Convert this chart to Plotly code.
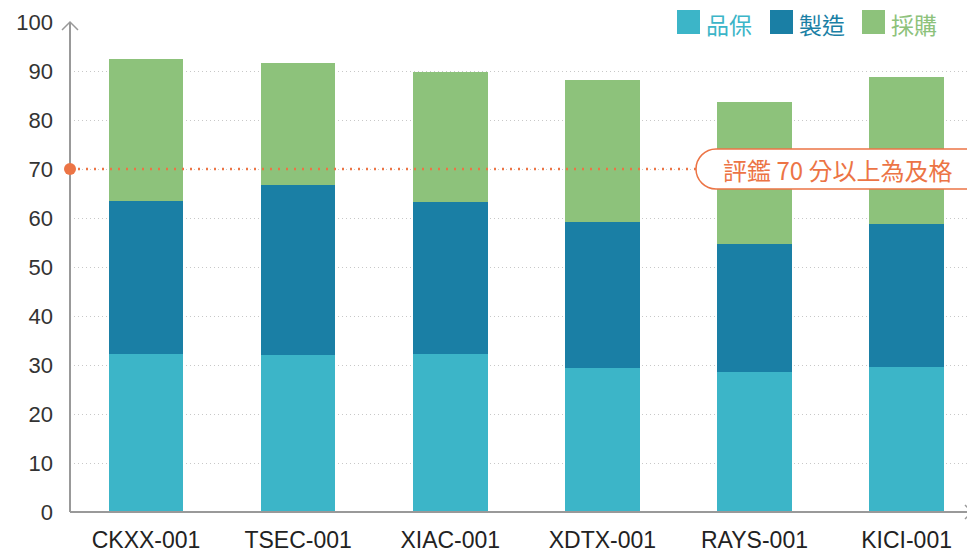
import plotly.graph_objects as go

categories = ["CKXX-001", "TSEC-001", "XIAC-001", "XDTX-001", "RAYS-001", "KICI-001"]
qa = [32.2, 32.0, 32.2, 29.4, 28.6, 29.6]          # 品保
mfg = [31.3, 34.7, 31.1, 29.8, 26.1, 29.2]         # 製造
purchase = [28.9, 24.9, 26.5, 29.0, 29.0, 30.0]    # 採購
series_names = ["品保", "製造", "採購"]
colors = ["#3cb5c8", "#1a7fa5", "#8dc27b"]
y_ticks = [0, 10, 20, 30, 40, 50, 60, 70, 80, 90, 100]
threshold = 70
threshold_label = "評鑑 70 分以上為及格"

ORANGE = "#ec7445"
AXIS = "#999999"
FONT = "Liberation Sans, Arial, Noto Sans CJK TC, sans-serif"
CJK = "Noto Sans CJK TC, sans-serif"

fig = go.Figure()
for name, vals, col in zip(series_names, [qa, mfg, purchase], colors):
    fig.add_trace(go.Bar(x=categories, y=vals, name=name, marker=dict(color=col, line=dict(width=0)),
                         width=0.49, showlegend=False))

# page body has an 8px margin; figure coords = screen coords - 8
OFF = 8
W, H = 975, 555
L, T = 70 - OFF, 22 - OFF
B = H - (512 - OFF)
R = W - (972 - OFF)
pw = W - L - R
ph = H - T - B

def px2paper_x(px):
    return (px - OFF - L) / pw

def px2paper_y(py):
    return (H - B - (py - OFF)) / ph

shapes = []
# axes lines
shapes.append(dict(type="line", xref="paper", yref="paper", x0=0, x1=1, y0=0, y1=0,
                   line=dict(color=AXIS, width=2), layer="above"))
shapes.append(dict(type="line", xref="paper", yref="paper", x0=0, x1=0, y0=0, y1=1,
                   line=dict(color=AXIS, width=2), layer="above"))
# arrow chevrons
shapes.append(dict(type="path", xref="paper", yref="paper", xsizemode="pixel", ysizemode="pixel",
                   xanchor=0, yanchor=1, path="M -8,-8 L 0,0 L 8,-8",
                   line=dict(color=AXIS, width=1.5)))
shapes.append(dict(type="path", xref="paper", yref="paper", xsizemode="pixel", ysizemode="pixel",
                   xanchor=1, yanchor=0, path="M -7,7 L 0,0 L -7,-7",
                   line=dict(color=AXIS, width=1.5)))
# threshold dotted line
shapes.append(dict(type="line", xref="paper", yref="y", x0=0, x1=px2paper_x(697), y0=threshold, y1=threshold,
                   line=dict(color=ORANGE, width=2.5, dash="2px,6px"), layer="above"))
shapes.append(dict(type="circle", xref="paper", yref="y", xsizemode="pixel", ysizemode="pixel",
                   xanchor=0, yanchor=threshold, x0=-6, x1=6, y0=-6, y1=6,
                   fillcolor=ORANGE, line=dict(width=0), layer="above"))
# pill label box
r = 20
wbox = 300
k = 11
pill = (f"M {r},{-r} L {wbox-r},{-r} C {wbox-r+k},{-r} {wbox},{-k} {wbox},0 "
        f"C {wbox},{k} {wbox-r+k},{r} {wbox-r},{r} L {r},{r} "
        f"C {r-k},{r} 0,{k} 0,0 C 0,{-k} {r-k},{-r} {r},{-r} Z")
shapes.append(dict(type="path", xref="paper", yref="y", xsizemode="pixel", ysizemode="pixel",
                   xanchor=px2paper_x(696), yanchor=threshold, path=pill,
                   fillcolor="white", line=dict(color=ORANGE, width=1.5), layer="above"))

annotations = [dict(text=threshold_label, xref="paper", yref="y", x=px2paper_x(721), y=threshold,
                    xanchor="left", yanchor="middle", showarrow=False,
                    font=dict(family=CJK, size=24, color=ORANGE))]

# custom legend
legend_items = [(677, 705), (770, 798), (862, 890)]
for (sx, tx), name, col in zip(legend_items, series_names, colors):
    shapes.append(dict(type="rect", xref="paper", yref="paper",
                       x0=px2paper_x(sx), x1=px2paper_x(sx + 23),
                       y0=px2paper_y(34), y1=px2paper_y(10),
                       fillcolor=col, line=dict(width=0)))
    annotations.append(dict(text=name, xref="paper", yref="paper", x=px2paper_x(tx), y=px2paper_y(24),
                            xanchor="left", yanchor="middle", showarrow=False, borderpad=0,
                            font=dict(family=CJK, size=23, color=col)))

fig.update_layout(
    width=W, height=H,
    margin=dict(l=L, r=R, t=T, b=B, autoexpand=False),
    barmode="stack",
    plot_bgcolor="white", paper_bgcolor="white",
    font=dict(family=FONT, size=22, color="#333333"),
    shapes=shapes, annotations=annotations,
    xaxis=dict(range=[-0.5, 5.43], showgrid=False, showline=False, zeroline=False, automargin=False,
               tickfont=dict(size=23, color="#222222"), ticks="", ticklabelstandoff=12),
    yaxis=dict(range=[0, 100], tickvals=y_ticks, showgrid=True, gridcolor="#c8c8c8",
               griddash="1px,3px", gridwidth=1, zeroline=False, showline=False, ticks="", automargin=False,
               tickfont=dict(size=22, color="#333333"), ticklabelstandoff=16),
)

fig.write_html("out.html")
